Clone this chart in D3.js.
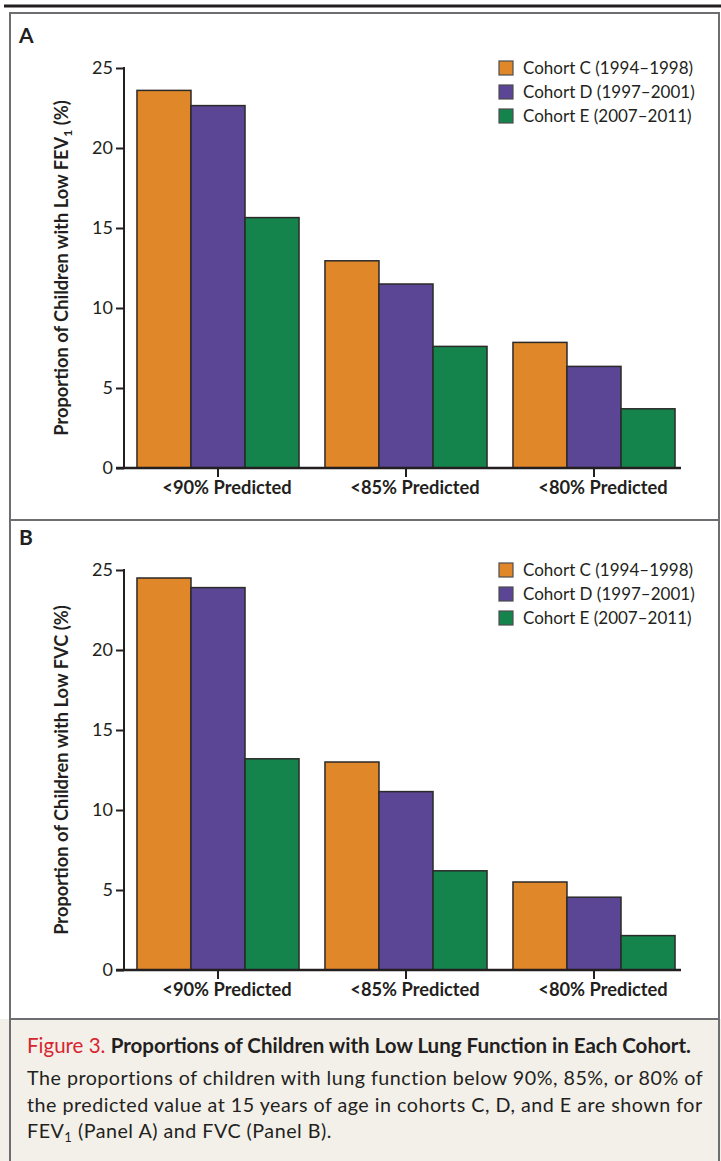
<!DOCTYPE html>
<html>
<head>
<meta charset="utf-8">
<script src="https://cdn.jsdelivr.net/npm/d3@7"></script>
<style>
  body { margin: 0; background: #fff; }
  svg { display: block; font-family: Lato, "Noto Sans", sans-serif; }
</style>
</head>
<body>
<svg id="chart" width="721" height="1161"></svg>
<script>
// data
var categories = ["<90% Predicted", "<85% Predicted", "<80% Predicted"];
var cohorts = ["Cohort C (1994\u20131998)", "Cohort D (1997\u20132001)", "Cohort E (2007\u20132011)"];
var colors = ["#e0872a", "#5b4595", "#14844c"];
var yTicks = [0, 5, 10, 15, 20, 25];

// panel A: FEV1
var fev1C = [23.6, 12.95, 7.85];
var fev1D = [22.65, 11.5, 6.35];
var fev1E = [15.65, 7.6, 3.7];
// panel B: FVC
var fvcC = [24.5, 13.0, 5.5];
var fvcD = [23.9, 11.15, 4.55];
var fvcE = [13.2, 6.2, 2.15];

var svg = d3.select("#chart");

// frame
svg.append("rect").attr("x", 0).attr("y", 1019).attr("width", 721).attr("height", 142).attr("fill", "#f3f0ea");
svg.append("line").attr("x1", 4).attr("x2", 721).attr("y1", 6).attr("y2", 6)
    .attr("stroke", "#231f20").attr("stroke-width", 3);
svg.append("rect").attr("x", 10).attr("y", 13).attr("width", 709).attr("height", 1160)
    .attr("fill", "none").attr("stroke", "#6d6e71").attr("stroke-width", 2);
svg.append("line").attr("x1", 10).attr("x2", 719).attr("y1", 520).attr("y2", 520)
    .attr("stroke", "#6d6e71").attr("stroke-width", 2);
svg.append("line").attr("x1", 10).attr("x2", 719).attr("y1", 1019).attr("y2", 1019)
    .attr("stroke", "#6d6e71").attr("stroke-width", 2);

function drawPanel(letter, top, series, labelMain, labelSub) {
    var zeroY = top + 455;
    var g = svg.append("g");

    var x0 = d3.scaleBand().domain(categories).range([124, 688]).paddingInner(0.138).paddingOuter(0.069);
    var x1 = d3.scaleBand().domain(d3.range(3)).range([0, x0.bandwidth()]);
    var y = d3.scaleLinear().domain([0, 25]).range([zeroY, zeroY - 400]);

    g.append("text").attr("x", 19).attr("y", top + 30).text(letter)
        .attr("font-size", 21).attr("font-weight", "bold").attr("fill", "#231f20");

    // bars
    categories.forEach(function(c, ci) {
        g.selectAll(null)
            .data(series.map(function(s) { return s[ci]; }))
            .enter()
            .append("rect")
            .attr("x", function(d, i) { return x0(c) + x1(i); })
            .attr("y", function(d) { return y(d); })
            .attr("width", x1.bandwidth())
            .attr("height", function(d) { return zeroY - y(d); })
            .attr("fill", function(d, i) { return colors[i]; })
            .attr("stroke", "#2b2a29")
            .attr("stroke-width", 1.5);
    });

    // y axis
    var ya = g.append("g").attr("transform", "translate(124,0)")
        .call(d3.axisLeft(y).tickValues(yTicks).tickSize(8).tickPadding(3));
    ya.select(".domain").remove();
    ya.selectAll(".tick line").attr("stroke", "#231f20").attr("stroke-width", 2);
    ya.selectAll(".tick text").attr("font-size", 18).attr("fill", "#231f20").attr("font-family", "Lato");
    g.append("line").attr("x1", 124).attr("x2", 124).attr("y1", y(25) - 1).attr("y2", zeroY)
        .attr("stroke", "#231f20").attr("stroke-width", 2);

    // x axis (labels sit a little right of the tick in the original)
    var xa = g.append("g").attr("transform", "translate(0," + zeroY + ")")
        .call(d3.axisBottom(x0).tickSize(9).tickPadding(4));
    xa.select(".domain").remove();
    xa.selectAll(".tick line").attr("stroke", "#231f20").attr("stroke-width", 2);
    xa.selectAll(".tick text").attr("font-size", 18.3).attr("font-weight", "bold")
        .attr("fill", "#231f20").attr("font-family", "Lato").attr("dx", 9);
    g.append("line").attr("x1", 116).attr("x2", 681).attr("y1", zeroY).attr("y2", zeroY)
        .attr("stroke", "#231f20").attr("stroke-width", 2.5);

    // y label
    var lab = g.append("text")
        .attr("transform", "translate(68," + (zeroY - 200) + ") rotate(-90)")
        .attr("text-anchor", "middle")
        .attr("font-size", 18.3).attr("font-weight", "bold").attr("fill", "#231f20");
    lab.append("tspan").text(labelMain);
    if (labelSub) {
        lab.append("tspan").text(labelSub).attr("font-size", 12).attr("dy", 4);
        lab.append("tspan").text(" (%)").attr("dy", -4);
    }

    // legend
    var lg = g.append("g").attr("transform", "translate(499," + (top + 48) + ")");
    cohorts.forEach(function(name, i) {
        lg.append("rect").attr("x", 0).attr("y", i * 24).attr("width", 14).attr("height", 14)
            .attr("fill", colors[i]).attr("stroke", "#4d4d4f").attr("stroke-width", 1.2);
        lg.append("text").attr("x", 24).attr("y", i * 24 + 13).text(name)
            .attr("font-size", 17).attr("fill", "#231f20");
    });
}

drawPanel("A", 13, [fev1C, fev1D, fev1E], "Proportion of Children with Low FEV", "1");
drawPanel("B", 515, [fvcC, fvcD, fvcE], "Proportion of Children with Low FVC (%)", null);

// caption
var cap = svg.append("g").attr("fill", "#231f20");
var t = cap.append("text").attr("x", 27).attr("y", 1053).attr("font-size", 20.5);
t.append("tspan").text("Figure 3. ").attr("fill", "#d7252f");
t.append("tspan").text("Proportions of Children with Low Lung Function in Each Cohort.").attr("font-weight", "bold");
var body = cap.append("g").attr("font-size", 19.7).attr("letter-spacing", 0.5);
body.append("text").attr("x", 27).attr("y", 1085)
    .text("The proportions of children with lung function below 90%, 85%, or 80% of");
body.append("text").attr("x", 27).attr("y", 1112)
    .text("the predicted value at 15 years of age in cohorts C, D, and E are shown for");
var l3 = body.append("text").attr("x", 27).attr("y", 1138);
l3.append("tspan").text("FEV");
l3.append("tspan").text("1").attr("font-size", 13).attr("dy", 4);
l3.append("tspan").text(" (Panel A) and FVC (Panel B).").attr("dy", -4);
</script>
</body>
</html>
